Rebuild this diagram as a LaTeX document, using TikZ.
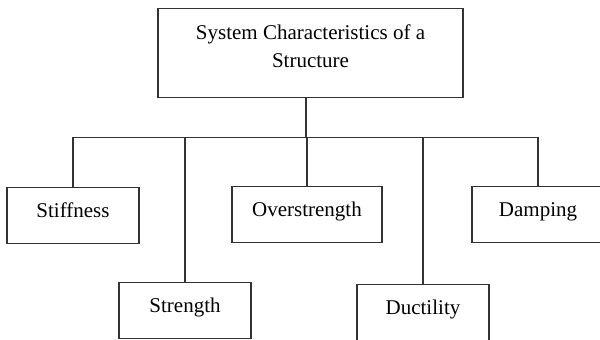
\documentclass[tikz,border=0pt]{standalone}
\usepackage{fontspec}
\setmainfont{Liberation Serif}
\usetikzlibrary{positioning}
\definecolor{linegray}{HTML}{333333}
\tikzset{
  box/.style={draw=linegray,line width=1.3pt,fill=white,align=center,inner xsep=4pt,inner ysep=0pt,font=\fontsize{21}{28}\selectfont,anchor=north},
  charbox/.style={box,minimum width=132pt,text height=30pt,text depth=26pt},
  link/.style={draw=linegray,line width=1.3pt}
}

\begin{document}
\begin{tikzpicture}[x=1pt,y=-1pt]
  \useasboundingbox (0,0) rectangle (600,340);
  \node[box,minimum width=305pt,text height=59pt,text depth=30pt] (system) at (310.5,8) {System Characteristics of a\\Structure};
  \coordinate[below=39pt of system,xshift=-4.5pt] (bus);

  \node[charbox] (stiff) at (73,187) {Stiffness};
  \node[charbox] (strength) at (185,282) {Strength};
  \node[charbox,minimum width=150pt] (over) at (307,186) {Overstrength};
  \node[charbox,text depth=32pt] (ductility) at (423,284) {Ductility};
  \node[charbox] (damping) at (538,186) {Damping};

  \draw[link] (system.south -| bus) -- (bus);
  \draw[link] (stiff.north) |- (bus) -| (damping.north);
  \draw[link] (strength.north) -- (strength.north |- bus);
  \draw[link] (over.north) -- (over.north |- bus);
  \draw[link] (ductility.north) -- (ductility.north |- bus);
\end{tikzpicture}
\end{document}
